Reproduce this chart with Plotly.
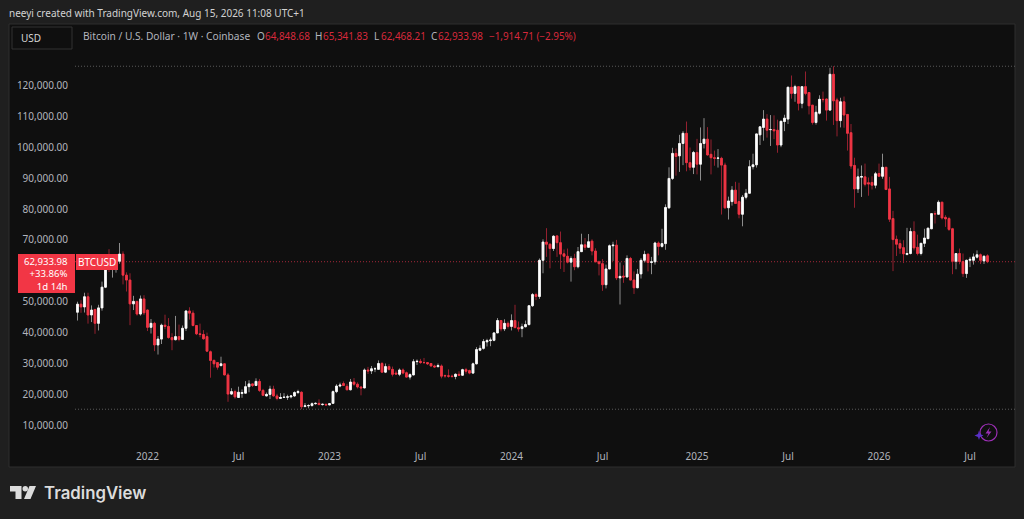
import pandas as pd
import plotly.graph_objects as go

# Weekly BTCUSD candles in thousands of USD
first_week = "2021-08-16"
opens_k = [
 46.6,49.2,48.3,51.6,45.7,47.5,43.0,48.0,54.7,62.0,
 60.9,61.3,63.1,65.4,58.6,57.0,49.3,50.1,46.0,50.9,
 47.3,41.7,43.0,36.0,37.9,42.4,42.0,38.4,37.7,38.7,
 37.8,41.4,47.0,46.3,42.3,39.6,39.4,38.7,33.8,31.0,
 30.3,29.3,29.9,26.3,20.1,20.9,19.0,20.3,20.4,22.5,
 23.4,22.9,24.2,21.3,19.5,20.0,21.7,19.5,18.7,19.0,
 19.1,19.2,19.5,20.6,20.7,16.1,16.3,16.4,17.0,17.1,
 16.7,16.8,16.6,17.1,20.9,22.7,23.5,22.6,21.5,24.0,
 23.3,22.4,22.1,27.9,27.6,28.3,28.1,30.0,27.2,29.0,
 28.1,26.9,26.5,27.9,27.0,25.6,26.3,30.6,30.7,30.3,
 30.3,30.0,29.2,29.0,29.2,26.1,26.0,25.9,25.8,26.5,
 26.2,28.0,27.7,26.9,29.9,34.3,34.9,37.0,37.4,37.5,
 39.9,43.9,41.2,43.0,42.0,43.9,41.6,41.3,41.9,42.6,
 48.7,52.3,51.7,63.4,69.3,68.6,67.2,71.3,69.1,65.5,
 64.7,62.8,64.0,61.3,66.2,68.4,67.6,69.6,66.4,62.9,
 62.3,55.5,60.6,68.1,68.3,57.7,58.3,58.0,64.0,57.0,
 54.5,59.0,63.4,65.4,62.7,62.9,69.0,67.9,68.8,80.4,
 89.9,98.0,97.2,101.2,104.5,95.0,93.5,98.3,94.5,101.2,
 102.6,97.7,96.6,96.4,96.4,94.2,80.4,82.4,86.1,82.4,
 78.3,83.8,85.1,93.7,94.3,104.0,106.4,109.1,105.7,105.7,
 105.5,100.7,108.3,109.1,119.4,117.4,119.6,114.2,119.6,117.7,
 113.6,108.0,111.0,115.5,115.6,112.0,123.6,115.3,108.6,114.7,
 110.6,104.7,94.1,86.5,90.3,90.4,88.5,88.6,87.7,91.5,
 90.6,93.5,86.5,76.9,70.2,68.8,67.5,65.3,65.6,72.7,
 67.6,65.6,68.9,70.4,73.6,78.5,78.3,82.2,77.3,76.9,
 73.6,63.1,65.6,63.0,59.1,63.4,63.4,64.4,65.2,63.2,
 64.84868]
highs_k = [
 50.0,50.5,52.9,52.9,48.8,47.5,49.0,56.5,62.9,67.0,
 63.7,64.3,69.0,66.3,59.5,59.2,51.9,50.2,52.0,52.1,
 47.5,44.4,43.5,38.9,42.9,45.8,44.7,39.8,45.4,42.6,
 42.3,47.2,48.2,47.2,42.4,42.9,40.8,40.0,34.2,31.3,
 30.4,32.2,30.0,26.9,22.0,21.5,22.5,21.6,24.3,24.6,
 23.6,25.2,25.0,21.8,20.6,22.8,22.8,20.2,20.4,20.4,
 19.9,19.7,21.0,21.5,21.0,17.2,16.8,17.4,17.4,18.4,
 17.0,16.9,17.1,21.3,23.3,23.8,24.2,23.4,25.0,25.3,
 23.9,22.6,28.4,28.9,29.2,28.8,31.0,30.5,30.0,29.8,
 29.0,27.7,28.4,28.4,27.4,26.8,31.4,31.3,31.5,31.8,
 30.4,30.0,29.6,30.0,29.7,26.4,28.1,26.4,26.8,27.5,
 28.3,28.6,28.0,30.3,35.3,35.9,37.9,38.0,38.4,40.2,
 44.7,43.9,44.3,43.6,45.9,49.0,43.6,42.9,43.9,48.9,
 52.8,52.9,64.0,70.2,73.8,68.9,71.5,71.5,72.7,66.9,
 67.2,64.7,65.5,67.7,72.0,70.6,71.9,70.2,67.3,63.3,
 63.8,62.0,68.5,69.4,70.0,62.7,61.8,65.0,64.5,59.8,
 60.6,64.1,66.5,65.5,64.5,69.4,69.5,73.6,81.5,93.5,
 99.8,99.6,104.0,105.2,108.3,99.9,98.8,102.7,106.4,109.4,
 106.5,102.5,98.9,99.4,96.9,95.0,84.0,87.4,88.8,88.5,
 84.5,86.5,95.8,97.9,104.4,106.7,112.0,110.7,110.4,110.3,
 108.9,108.5,110.5,119.6,123.2,120.2,119.8,119.7,124.5,117.7,
 113.6,113.4,116.8,118.0,115.7,125.7,126.2,116.0,116.0,116.4,
 110.7,107.5,96.6,93.1,94.1,94.7,90.2,90.6,92.0,94.7,
 97.9,93.6,90.4,79.4,71.4,70.1,69.9,73.9,73.9,76.0,
 71.7,69.0,73.6,73.9,78.6,79.4,82.8,82.2,78.0,77.5,
 73.9,65.6,67.2,65.6,63.6,64.5,65.6,66.6,65.6,65.0,
 65.34183]
lows_k = [
 43.9,46.4,46.5,42.9,43.4,39.6,40.7,47.1,54.4,59.6,
 57.8,59.4,62.3,55.6,53.3,42.4,47.3,45.5,45.5,45.7,
 40.5,39.7,34.0,32.9,36.3,41.1,38.0,34.3,37.5,37.2,
 37.6,40.5,44.2,42.0,39.2,38.5,37.7,33.7,25.4,28.7,
 28.0,29.2,26.2,17.6,19.8,18.6,18.9,18.9,20.4,20.7,
 22.4,22.7,20.8,19.5,19.4,18.5,19.3,18.1,18.5,19.0,
 18.2,18.7,19.2,20.1,15.2,15.8,15.5,16.0,16.7,16.5,
 16.4,16.3,16.5,17.0,20.4,22.3,22.7,21.3,21.3,22.8,
 21.9,19.7,22.0,26.6,26.6,27.2,28.0,27.1,26.9,27.7,
 25.8,26.4,25.9,26.5,25.4,24.8,26.2,29.5,29.9,29.9,
 29.5,29.0,28.6,28.7,25.2,25.4,25.4,25.4,24.9,26.0,
 26.0,26.7,26.5,26.6,29.7,34.0,34.5,35.5,35.6,37.2,
 39.9,40.4,40.5,41.3,40.7,41.5,40.3,38.5,41.7,42.3,
 48.3,50.5,50.9,59.2,64.5,60.8,66.4,64.5,60.6,59.6,
 62.4,56.5,60.2,60.8,66.2,66.7,67.6,65.0,62.8,58.5,
 53.5,54.3,60.6,63.2,57.0,49.1,56.1,57.8,57.0,52.5,
 54.6,57.5,62.7,59.8,58.9,62.0,65.0,67.5,66.8,80.0,
 89.4,90.8,92.0,94.2,92.2,92.5,91.3,91.2,89.2,99.6,
 97.3,91.2,94.0,93.4,78.2,80.0,76.6,81.1,81.6,77.0,
 74.4,83.1,85.0,92.8,93.4,100.7,102.1,103.1,100.4,102.6,
 98.2,100.0,105.2,107.5,115.7,114.7,111.9,112.6,116.8,110.6,
 107.3,107.3,110.6,114.5,108.6,111.8,107.2,103.5,106.4,106.3,
 98.9,93.0,80.4,85.2,83.9,87.3,84.3,86.3,86.7,90.6,
 89.8,86.1,75.8,59.9,64.8,65.5,62.5,65.0,65.3,66.6,
 65.0,65.0,67.7,70.3,73.5,75.3,78.2,76.6,74.2,72.9,
 58.9,60.5,62.1,58.0,57.7,61.2,62.0,64.0,62.2,62.2,
 62.46821]
closes_k = [
 49.2,48.3,51.6,45.7,47.3,43.0,48.0,54.7,62.0,60.9,
 61.3,63.1,65.4,58.6,57.0,49.3,50.1,46.0,50.9,46.4,
 41.7,43.0,36.0,37.9,42.4,42.0,38.4,37.7,38.7,37.8,
 41.4,47.0,46.3,42.3,39.6,39.4,38.0,34.0,31.0,29.9,
 28.8,29.9,26.3,20.1,20.9,19.2,20.7,20.6,22.5,23.4,
 22.9,24.2,21.3,19.7,20.0,21.7,19.5,18.7,19.0,19.1,
 19.2,19.5,20.6,20.9,16.0,16.3,16.4,17.0,17.1,16.7,
 16.8,16.6,17.0,20.9,22.7,23.0,22.9,21.5,24.0,23.3,
 22.4,22.1,27.9,27.6,28.3,28.3,30.0,27.2,29.0,28.1,
 26.5,26.6,27.9,26.9,25.6,26.4,30.6,30.7,30.3,30.3,
 29.9,29.2,28.9,29.3,25.9,26.0,25.9,25.8,26.5,26.2,
 28.0,27.5,26.9,29.9,34.5,34.9,37.1,37.4,37.6,39.9,
 43.9,41.2,43.0,42.0,43.9,41.6,41.2,41.9,42.6,48.7,
 52.3,51.7,63.4,69.3,68.6,67.2,71.2,69.1,65.4,64.7,
 62.8,64.0,61.3,66.2,68.4,67.6,69.4,66.4,62.9,62.3,
 55.5,60.6,68.1,68.3,57.7,58.2,58.0,64.0,57.0,54.5,
 58.9,63.4,65.3,62.7,62.9,69.0,67.9,68.8,80.5,89.9,
 98.0,97.0,101.2,104.5,95.0,93.5,98.3,94.5,101.2,102.6,
 97.5,96.6,96.4,96.5,94.2,80.4,82.6,86.1,81.8,78.3,
 83.8,85.1,93.7,94.3,104.3,106.6,109.1,105.5,105.7,105.3,
 100.7,108.4,109.4,119.4,117.4,119.6,114.2,119.6,117.4,113.4,
 108.0,111.3,115.5,115.4,112.0,123.6,115.0,108.6,114.7,110.4,
 104.5,93.9,86.5,90.4,90.5,88.0,88.1,87.7,91.4,90.6,
 93.5,86.3,76.7,70.1,68.6,67.3,65.5,65.6,72.7,67.4,
 65.6,68.9,70.6,73.8,78.5,78.4,82.2,77.1,76.8,73.4,
 63.1,65.6,63.0,59.1,63.4,63.7,64.5,65.2,63.4,64.7,
 62.93398]

y_tick_values = [10000,20000,30000,40000,50000,60000,70000,80000,90000,100000,110000,120000]
y_tick_labels = [f"{v:,.2f}" for v in y_tick_values]
x_tick_dates = ["2022-01-03","2022-07-04","2023-01-02","2023-07-03","2024-01-01",
                "2024-07-01","2025-01-06","2025-07-07","2026-01-05","2026-07-06"]
x_tick_labels = ["2022","Jul","2023","Jul","2024","Jul","2025","Jul","2026","Jul"]

assert len(opens_k)==len(highs_k)==len(lows_k)==len(closes_k), (len(opens_k),len(highs_k),len(lows_k),len(closes_k))
dates = pd.date_range(first_week, periods=len(opens_k), freq="7D")
opens = [v*1000 for v in opens_k]
highs = [v*1000 for v in highs_k]
lows = [v*1000 for v in lows_k]
closes = [v*1000 for v in closes_k]
body_tops = [max(o, c) for o, c in zip(opens, closes)]
body_bottoms = [min(o, c) for o, c in zip(opens, closes)]

W, H = 1024, 519
L, R, T, B = 72, 1015, 24, 447
def px(x): return (x - L) / (R - L)
def py(y): return (B - y) / (B - T)

OUTER = "#1f1f1f"; PANEL = "#0f0f0f"; BORDER = "#2e2e2e"
RED = "#f23645"; WHITE = "#ffffff"; TXT = "#b2b5bd"
FONT = "Noto Sans"

fig = go.Figure()
# wicks
fig.add_trace(go.Candlestick(
    x=dates, open=opens, high=highs, low=lows, close=closes, whiskerwidth=0,
    increasing=dict(line=dict(color="#8c8c8c", width=1), fillcolor="#8c8c8c"),
    decreasing=dict(line=dict(color="#94202f", width=1), fillcolor="#94202f"),
    hoverinfo="skip", showlegend=False))
# bodies
fig.add_trace(go.Candlestick(
    x=dates, open=opens, high=body_tops, low=body_bottoms, close=closes, whiskerwidth=0,
    increasing=dict(line=dict(color=WHITE, width=0.8), fillcolor=WHITE),
    decreasing=dict(line=dict(color=RED, width=0.8), fillcolor=RED),
    hoverinfo="skip", showlegend=False))

def rect(x0, y0, x1, y1, fill, line=None, layer="above"):
    return dict(type="rect", xref="paper", yref="paper", x0=px(x0), x1=px(x1), y0=py(y0), y1=py(y1),
                fillcolor=fill, line=dict(color=line or fill, width=1 if line else 0), layer=layer)

def poly(points, fill=None, line=None, width=1):
    d = "M " + " L ".join(f"{px(x):.5f},{py(y):.5f}" for x, y in points) + " Z"
    return dict(type="path", xref="paper", yref="paper", path=d, fillcolor=fill or "rgba(0,0,0,0)",
                line=dict(color=line or "rgba(0,0,0,0)", width=width), layer="above")

def hline(value, x0, color):
    return dict(type="line", xref="paper", yref="y", x0=px(x0), x1=1, y0=value, y1=value,
                line=dict(color=color, width=1, dash="1px,2px"), layer="below")

shapes = [
    rect(9, 24, 1015, 467, PANEL, BORDER, "below"),
    hline(max(highs), 75, "#5a5a5a"),
    hline(min(lows), 75, "#5a5a5a"),
    hline(closes[-1], 75, "#a5283a"),
    rect(12, 27, 72, 49, PANEL, "#333333", "below"),
    rect(18, 254, 75, 293, RED),
    rect(76, 254, 118, 270, RED),
    # TradingView logo
    poly([(10,486),(21.5,486),(21.5,499),(15.5,499),(15.5,491.5),(10,491.5)], "#dcdcdc"),
    dict(type="circle", xref="paper", yref="paper", x0=px(22.5), x1=px(28), y0=py(486), y1=py(491.5),
         fillcolor="#dcdcdc", line=dict(width=0), layer="above"),
    poly([(29.5,486),(36,486),(30.5,499),(24,499)], "#dcdcdc"),
    # snapshot badge
    dict(type="circle", xref="paper", yref="paper", x0=px(980), x1=px(997), y0=py(424), y1=py(441),
         fillcolor=PANEL, line=dict(color="#9c2fb5", width=1.2), layer="above"),
    poly([(990,427),(985.5,433.5),(988.5,433.5),(986.5,438),(991.5,431.5),(988.5,431.5)], "#9c2fb5"),
    poly([(979,430.5),(980,434),(983.5,435.5),(980,437),(979,440),(978,437),(974.5,435.5),(978,434)], "#5a30c8"),
]

def note(text, x, y, size=10, color=TXT, anchor="left", family=FONT, weight=None, align=None):
    font = dict(family=family, size=size, color=color)
    if weight:
        font["weight"] = weight
    a = dict(text=text, xref="paper", yref="paper", x=px(x), y=py(y), xanchor=anchor, yanchor="middle",
             showarrow=False, font=font, borderpad=0)
    if align:
        a["align"] = align
    return a

LEG_RED = "#d8293c"
annotations = [
    note("neeyi created with TradingView.com, Aug 15, 2026 11:08 UTC+1", 8, 13, 10, "#d2d2d2"),
    note("USD", 20, 38, 10, "#d6d6d6"),
    note("Bitcoin / U.S. Dollar · 1W · Coinbase", 82, 36, 10.2),
    note("O", 256, 36, 10), note("64,848.68", 264, 36, 9.9, LEG_RED),
    note("H", 314, 36, 10), note("65,341.83", 322, 36, 9.9, LEG_RED),
    note("L", 373, 36, 10), note("62,468.21", 380, 36, 9.9, LEG_RED),
    note("C", 430, 36, 10), note("62,933.98", 437, 36, 9.9, LEG_RED),
    note("−1,914.71 (−2.95%)", 488, 36, 9.9, LEG_RED),
    note("62,933.98<br>+33.86%<br>1d 14h", 69, 274, 9.6, WHITE, "right", align="right"),
    note("BTCUSD", 97, 262, 10, WHITE, "center"),
    note("TradingView", 43, 493, 16.8, "#dcdcdc", family="Inter", weight=600),
]

fig.update_layout(
    width=W, height=H, autosize=False,
    margin=dict(l=L, r=W - R, t=T, b=H - B, pad=0),
    paper_bgcolor=OUTER, plot_bgcolor="rgba(0,0,0,0)",
    showlegend=False, boxgap=0.3,
    font=dict(family=FONT, size=10, color=TXT),
    shapes=shapes, annotations=annotations,
    xaxis=dict(type="date", range=["2021-08-05", "2026-10-04"], rangeslider=dict(visible=False),
               showgrid=False, zeroline=False, showline=False, ticks="",
               tickmode="array", tickvals=x_tick_dates, ticktext=x_tick_labels, ticklabelstandoff=2,
               tickfont=dict(family=FONT, size=10, color=TXT), automargin=False),
    yaxis=dict(range=[2977, 139871], showgrid=False, zeroline=False, showline=False, ticks="",
               tickmode="array", tickvals=y_tick_values, ticktext=y_tick_labels, ticklabelstandoff=3,
               tickfont=dict(family=FONT, size=10, color=TXT), automargin=False),
)

fig.write_html("out.html", config=dict(displayModeBar=False, responsive=False),
               post_script="document.body.style.margin='0';document.body.style.background='#1f1f1f';document.documentElement.style.overflow='hidden';")
